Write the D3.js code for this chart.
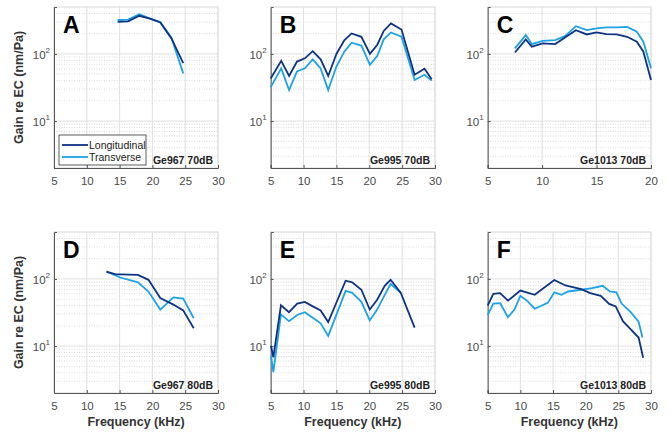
<!DOCTYPE html>
<html>
<head>
<meta charset="utf-8">
<script src="https://cdn.jsdelivr.net/npm/d3@7"></script>
<style>
  body { margin: 0; background: #fff; }
  svg { font-family: "Liberation Sans", Arial, sans-serif; }
</style>
</head>
<body>
<div id="chart"></div>
<script>
// frequencies in kHz, gains in nm/Pa
var freqA = [14.7, 16.3, 18.0, 19.6, 21.2, 22.9, 24.7]
var longA = [300, 305, 370, 335, 295, 170, 73]
var transA = [320, 325, 390, 340, 300, 175, 51]

var freqB = [5.0, 6.6, 7.8, 9.0, 10.2, 11.4, 12.6, 13.75, 15.0, 16.2, 17.3, 18.8, 20.1, 21.2, 22.2, 23.3, 24.9, 26.9, 28.4, 29.5]
var longB = [43, 79, 47, 77, 86, 110, 83, 47, 100, 160, 202, 180, 100, 136, 220, 284, 231, 49, 60, 42]
var transB = [32, 61, 29, 55, 61, 83, 61, 29, 65, 108, 147, 133, 69, 93, 165, 209, 180, 41, 49, 40]

var freqC = [7.5, 8.5, 9.05, 10.05, 11.2, 12.1, 13.1, 14.1, 15.0, 15.9, 16.85, 17.8, 18.7, 19.3, 20.0]
var longC = [105, 164, 128, 144, 140, 176, 226, 195, 209, 197, 195, 180, 152, 108, 41]
var transC = [121, 191, 140, 157, 161, 184, 259, 226, 240, 248, 248, 253, 214, 152, 61]

var freqD = [13.0, 14.3, 15.1, 17.8, 19.4, 21.2, 23.2, 24.7, 26.3]
var longD = [128, 118, 117, 115, 97, 52, 41.5, 34, 18.4]
var transD = [128, 114, 105, 89, 65, 35, 53, 51, 26]

var freqE = [5.05, 5.4, 6.56, 7.78, 9.04, 10.2, 11.4, 12.6, 13.75, 16.4, 17.4, 18.8, 20.07, 21.2, 22.35, 23.25, 24.8, 26.9]
var longE = [10.1, 6.8, 40.5, 32, 43, 45.5, 39, 34, 22.8, 94, 89, 69, 35, 49, 79, 97, 62, 18.8]
var freqE_t = [5.05, 5.4, 6.56, 7.78, 9.04, 10.2, 11.4, 12.6, 13.75, 16.4, 17.4, 18.8, 20.07, 21.2, 22.35, 23.25, 24.8]
var transE = [7.2, 4.1, 29.6, 23.5, 29, 32, 26.5, 21.8, 14.2, 66.5, 62, 45.5, 24.1, 35, 58, 84, 62]

var freqF_l = [5.0, 5.86, 6.9, 8.1, 10.0, 12.2, 15.2, 16.9, 19.3, 20.7, 22.3, 23.6, 24.6, 25.7, 26.9, 28.1, 28.8]
var longF = [40, 60, 61.5, 47.5, 67, 58, 96.6, 80, 70.5, 61.5, 56, 42.5, 39, 23.5, 17.8, 13.4, 6.7]
var freqF_t = [5.0, 5.86, 6.9, 8.1, 9.1, 10.0, 11.0, 12.2, 14.2, 15.2, 16.3, 17.3, 19.3, 21.0, 22.6, 23.7, 24.7, 25.5, 26.9, 28.1, 28.7]
var transF = [29, 43, 43.5, 27, 35, 56, 47.5, 36, 44, 63, 58, 65, 69, 73, 79, 65, 63, 43, 32, 23, 13.4]

var xTicks30 = [5, 10, 15, 20, 25, 30]
var xTicks20 = [5, 10, 15, 20]
var yDomain = [2, 500]
var seriesNames = ["Longitudinal", "Transverse"]
var panelLetters = ["A", "B", "C", "D", "E", "F"]
var panelNotes = ["Ge967 70dB", "Ge995 70dB", "Ge1013 70dB", "Ge967 80dB", "Ge995 80dB", "Ge1013 80dB"]

var colLong = "#0e3383"
var colTrans = "#1ea2e6"

var width = 670, height = 435

var svg = d3.select("#chart")
    .append("svg")
    .attr("width", width)
    .attr("height", height)

var cols = [[54, 218], [270.7, 435], [487.7, 651]]
var rows = [[7, 168], [232, 393]]

var panels = [
    { f1: freqA, l: longA, f2: freqA, t: transA, xmax: 30, ticks: xTicks30 },
    { f1: freqB, l: longB, f2: freqB, t: transB, xmax: 30, ticks: xTicks30 },
    { f1: freqC, l: longC, f2: freqC, t: transC, xmax: 20, ticks: xTicks20 },
    { f1: freqD, l: longD, f2: freqD, t: transD, xmax: 30, ticks: xTicks30 },
    { f1: freqE, l: longE, f2: freqE_t, t: transE, xmax: 30, ticks: xTicks30 },
    { f1: freqF_l, l: longF, f2: freqF_t, t: transF, xmax: 30, ticks: xTicks30 }
]

// minor grid values for the log axis
var minorY = []
for (var dec = 1; dec <= 100; dec *= 10) {
    for (var m = 2; m <= 9; m++) {
        var v = m * dec
        if (v >= yDomain[0] && v <= yDomain[1]) minorY.push(v)
    }
}

panels.forEach(function (p, i) {
    var c = cols[i % 3], r = rows[Math.floor(i / 3)]
    var x = d3.scaleLinear().domain([5, p.xmax]).range(c)
    var y = d3.scaleLog().domain(yDomain).range([r[1], r[0]])
    var g = svg.append("g")

    // minor grid (dotted)
    g.selectAll(".minor").data(minorY).enter().append("line")
        .attr("x1", c[0]).attr("x2", c[1])
        .attr("y1", d => y(d)).attr("y2", d => y(d))
        .style("stroke", "#d0d0d0")
        .style("stroke-width", 0.8)
        .style("stroke-dasharray", "1,1.5")

    // major grid
    g.selectAll(".gx").data(p.ticks).enter().append("line")
        .attr("x1", d => x(d)).attr("x2", d => x(d))
        .attr("y1", r[0]).attr("y2", r[1])
        .style("stroke", "#e0e0e0")
    g.selectAll(".gy").data([10, 100]).enter().append("line")
        .attr("x1", c[0]).attr("x2", c[1])
        .attr("y1", d => y(d)).attr("y2", d => y(d))
        .style("stroke", "#e0e0e0")

    // box
    g.append("rect")
        .attr("x", c[0]).attr("y", r[0])
        .attr("width", c[1] - c[0]).attr("height", r[1] - r[0])
        .style("fill", "none").style("stroke", "#dedede")

    // x axis
    var xa = g.append("g")
        .attr("transform", "translate(0," + r[1] + ")")
        .call(d3.axisBottom(x).tickValues(p.ticks).tickSize(-3).tickPadding(9).tickFormat(d3.format("d")))
    xa.select(".domain").style("stroke", "#555")
    xa.selectAll(".tick line").style("stroke", "#555")
    xa.selectAll("text").style("font-size", "11.5px").style("fill", "#4a4a4a")

    // y axis
    var ya = g.append("g")
        .attr("transform", "translate(" + c[0] + ",0)")
        .call(d3.axisLeft(y).tickValues([10, 100]).tickSize(-3).tickFormat(""))
    ya.select(".domain").style("stroke", "#555")
    ya.selectAll(".tick line").style("stroke", "#555")
    ;[10, 100].forEach(function (v) {
        var t = g.append("text")
            .attr("x", c[0] - 4)
            .attr("y", y(v) + 5)
            .attr("text-anchor", "end")
            .style("font-size", "11.5px")
            .style("fill", "#4a4a4a")
        t.append("tspan").text("10")
        t.append("tspan").attr("dy", -6).style("font-size", "8px").text(Math.round(Math.log10(v)))
    })

    var line = d3.line()
        .x(d => x(d[0]))
        .y(d => y(d[1]))

    g.append("path")
        .datum(d3.zip(p.f2, p.t))
        .attr("d", line)
        .style("fill", "none").style("stroke", colTrans).style("stroke-width", 1.8)
    g.append("path")
        .datum(d3.zip(p.f1, p.l))
        .attr("d", line)
        .style("fill", "none").style("stroke", colLong).style("stroke-width", 1.8)

    // letter
    g.append("text")
        .attr("x", c[0] + 9).attr("y", r[0] + 26)
        .style("font-size", "23px").style("font-weight", "bold").style("fill", "#000")
        .text(panelLetters[i])

    // note
    g.append("text")
        .attr("x", c[1] - 5).attr("y", r[1] - 4)
        .attr("text-anchor", "end")
        .style("font-size", "10.5px").style("font-weight", "bold").style("fill", "#222")
        .text(panelNotes[i])

    // axis labels
    if (i % 3 === 0) {
        svg.append("text")
            .attr("transform", "translate(23," + ((r[0] + r[1]) / 2) + ") rotate(-90)")
            .attr("text-anchor", "middle")
            .style("font-size", "12.5px").style("font-weight", "bold").style("fill", "#333")
            .text("Gain re EC (nm/Pa)")
    }
    if (i >= 3) {
        svg.append("text")
            .attr("x", (c[0] + c[1]) / 2).attr("y", 426)
            .attr("text-anchor", "middle")
            .style("font-size", "12.5px").style("font-weight", "bold").style("fill", "#333")
            .text("Frequency (kHz)")
    }

    // legend only in panel A
    if (i === 0) {
        var lg = g.append("g")
        lg.append("rect")
            .attr("x", 59).attr("y", 135).attr("width", 87).attr("height", 30)
            .style("fill", "#fff").style("stroke", "#333").style("stroke-width", 0.8)
        ;[colLong, colTrans].forEach(function (col, k) {
            var yy = 145 + k * 12
            lg.append("line")
                .attr("x1", 62).attr("x2", 88).attr("y1", yy).attr("y2", yy)
                .style("stroke", col).style("stroke-width", 1.8)
            lg.append("text")
                .attr("x", 89).attr("y", yy + 3.5)
                .style("font-size", "10.5px").style("fill", "#222")
                .text(seriesNames[k])
        })
    }
})
</script>
</body>
</html>
